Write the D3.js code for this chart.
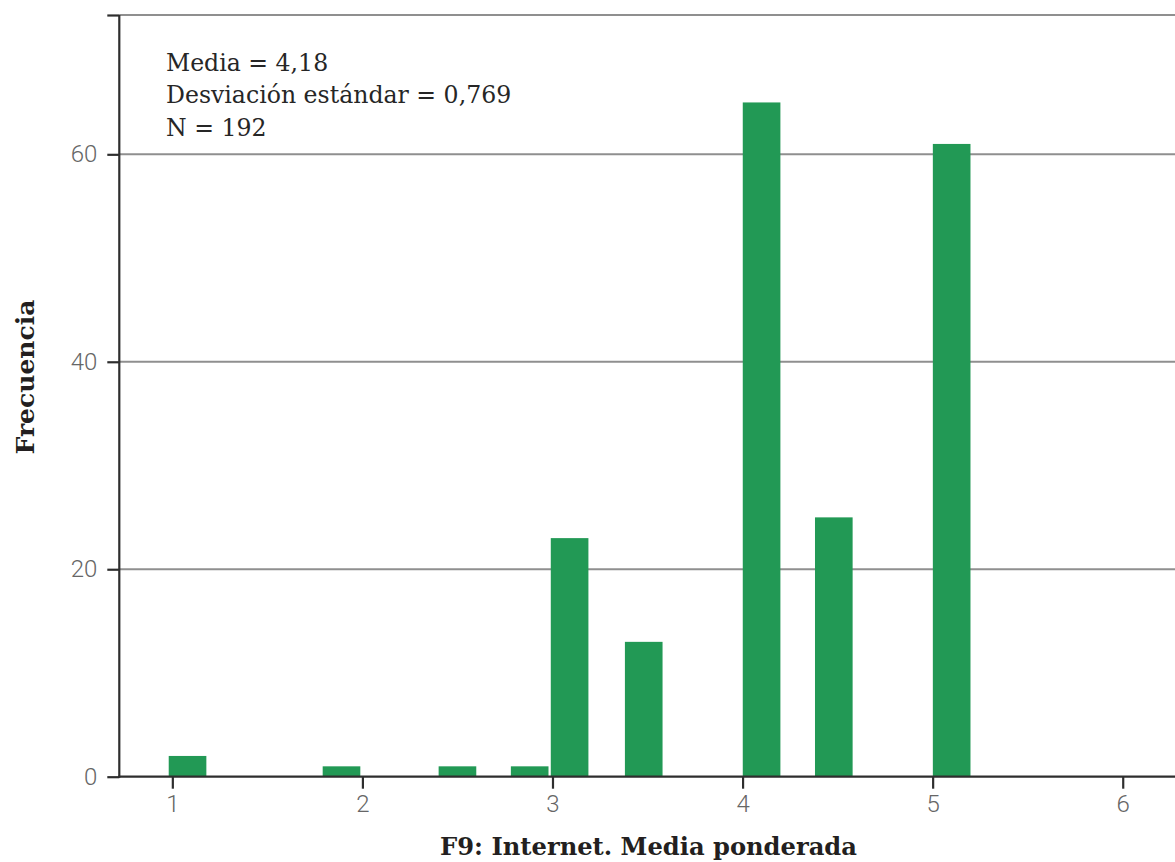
<!DOCTYPE html>
<html>
<head>
<meta charset="utf-8">
<script src="https://cdn.jsdelivr.net/npm/d3@7"></script>
<style>
  html, body { margin: 0; padding: 0; background: #fff; }
  svg { display: block; }
</style>
</head>
<body>
<svg id="chart" width="1175" height="862"></svg>
<script>
// Data: bin centres (weighted mean value) and frequencies
const binCenters = [1.08, 1.89, 2.50, 2.88, 3.09, 3.48, 4.10, 4.48, 5.10];
const frequencies = [2, 1, 1, 1, 23, 13, 65, 25, 61];
const binWidth = 0.198;
const xTicks = [1, 2, 3, 4, 5, 6];
const yTicks = [0, 20, 40, 60];
const statsLines = ["Media = 4,18", "Desviación estándar = 0,769", "N = 192"];
const xTitle = "F9: Internet. Media ponderada";
const yTitle = "Frecuencia";

(function () {
const svg = d3.select("#chart");
const mL = 119.3, mR = 1175, mT = 15, mB = 776.7;

const x = d3.scaleLinear().domain([0.721, 6.275]).range([mL, mR]);
const y = d3.scaleLinear().domain([0, 73.43]).range([mB, mT]);

const serif = "'Roboto Slab', 'DejaVu Serif', serif";
const tickFont = "Roboto, 'DejaVu Sans', sans-serif";

// gridlines
const gridVals = yTicks.filter(v => v > 0).concat([y.domain()[1]]);
svg.append("g").selectAll("line").data(gridVals).join("line")
  .attr("x1", mL).attr("x2", mR)
  .attr("y1", d => y(d)).attr("y2", d => y(d))
  .attr("stroke", "#8f8f8f").attr("stroke-width", 2);

// bars
svg.append("g").selectAll("rect").data(binCenters).join("rect")
  .attr("x", d => x(d - binWidth / 2))
  .attr("width", d => x(d + binWidth / 2) - x(d - binWidth / 2))
  .attr("y", (d, i) => y(frequencies[i]))
  .attr("height", (d, i) => y(0) - y(frequencies[i]))
  .attr("fill", "#229955");

// x axis
const xAxis = d3.axisBottom(x).tickValues(xTicks).tickSize(12).tickPadding(6).tickFormat(d3.format("d"));
const gx = svg.append("g").attr("transform", `translate(0,${mB})`).call(xAxis);
gx.select(".domain").remove();
gx.append("line").attr("x1", mL - 1).attr("x2", mR).attr("y1", 0).attr("y2", 0)
  .attr("stroke", "#2e2e2e").attr("stroke-width", 2.2);
gx.selectAll(".tick line").attr("stroke", "#2e2e2e").attr("stroke-width", 2.2);
gx.selectAll(".tick text").attr("fill", "#666666").style("font-family", tickFont)
  .style("font-weight", 300).style("font-size", "24px");

// y axis
const yAxis = d3.axisLeft(y).tickValues(yTicks.concat([y.domain()[1]])).tickSize(12).tickPadding(10)
  .tickFormat(d => yTicks.includes(d) ? d3.format("d")(d) : "");
const gy = svg.append("g").attr("transform", `translate(${mL},0)`).call(yAxis);
gy.select(".domain").remove();
gy.append("line").attr("x1", 0).attr("x2", 0).attr("y1", mT).attr("y2", mB + 1)
  .attr("stroke", "#2e2e2e").attr("stroke-width", 2.2);
gy.selectAll(".tick line").attr("stroke", "#2e2e2e").attr("stroke-width", 2.2);
gy.selectAll(".tick text").attr("fill", "#666666").style("font-family", tickFont)
  .style("font-weight", 300).style("font-size", "24px");

// stats annotation
svg.append("g").selectAll("text").data(statsLines).join("text")
  .attr("x", 166).attr("y", (d, i) => 71 + i * 32.3)
  .attr("fill", "#262626")
  .style("font-family", serif).style("font-size", "23.6px")
  .text(d => d);

// axis titles
svg.append("text").attr("x", 648.5).attr("y", 855).attr("text-anchor", "middle")
  .attr("fill", "#231f20").style("font-family", serif).style("font-weight", "bold")
  .style("font-size", "24.2px").text(xTitle);

svg.append("text").attr("transform", "translate(34,377) rotate(-90)").attr("text-anchor", "middle")
  .attr("fill", "#231f20").style("font-family", serif).style("font-weight", "bold")
  .style("font-size", "25px").text(yTitle);
})();
</script>
</body>
</html>
